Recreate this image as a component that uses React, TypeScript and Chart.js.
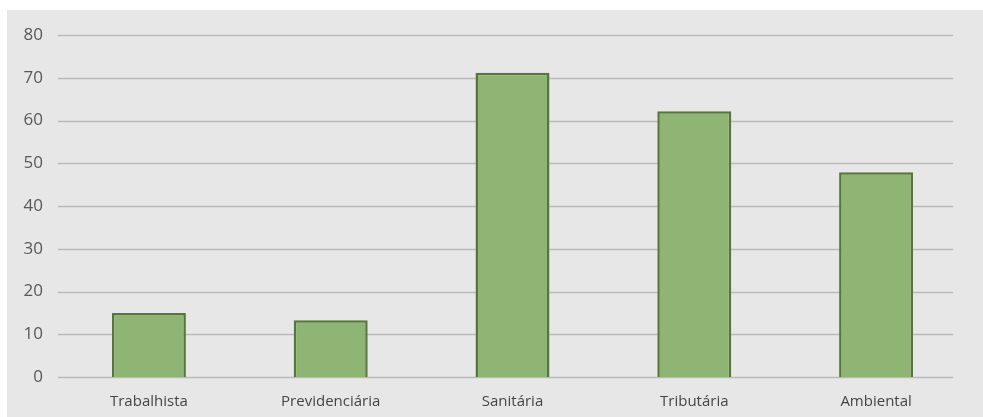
import React, { useEffect, useRef } from "react";
import { Chart, registerables } from "chart.js";

Chart.register(...registerables);

const categories = ["Trabalhista", "Previdenciária", "Sanitária", "Tributária", "Ambiental"];
const values = [15, 13.3, 71.2, 62.2, 47.9];
const yTicks = [0, 10, 20, 30, 40, 50, 60, 70, 80];

const gridPlugin = {
  id: "shortGrid",
  beforeDatasetsDraw(chart: any) {
    const { ctx, chartArea, scales } = chart;
    const y = scales.y;
    ctx.save();
    ctx.strokeStyle = "#bababa";
    ctx.lineWidth = 1.5;
    yTicks.forEach((v) => {
      const py = Math.round(y.getPixelForValue(v)) + 0.5;
      ctx.beginPath();
      ctx.moveTo(chartArea.left, py);
      ctx.lineTo(chartArea.right - 14, py);
      ctx.stroke();
    });
    ctx.restore();
  },
};

export default function App() {
  const ref = useRef<HTMLCanvasElement | null>(null);
  useEffect(() => {
    if (!ref.current) return;
    const chart = new Chart(ref.current, {
      type: "bar",
      data: {
        labels: categories,
        datasets: [
          {
            data: values,
            backgroundColor: "#8fb574",
            borderColor: "#557838",
            borderWidth: 2.5,
            barPercentage: 0.407,
            categoryPercentage: 1,
          },
        ],
      },
      plugins: [gridPlugin],
      options: {
        animation: false,
        responsive: false,
        maintainAspectRatio: false,
        layout: { padding: { left: 0, right: 16, top: 24, bottom: 0 } },
        plugins: { legend: { display: false }, tooltip: { enabled: false } },
        scales: {
          x: {
            grid: { display: false, drawTicks: false },
            border: { display: false },
            ticks: {
              color: "#454545",
              font: { family: "Open Sans", size: 15 },
              padding: 16,
              maxRotation: 0,
            },
            afterFit: (s: any) => {
              s.height = 40;
            },
          },
          y: {
            min: 0,
            max: 80,
            grid: { display: false, drawTicks: false },
            border: { display: false },
            afterBuildTicks: (s: any) => {
              s.ticks = yTicks.map((v) => ({ value: v }));
            },
            ticks: {
              color: "#585858",
              font: { family: "Open Sans", size: 17 },
              padding: 15,
            },
            afterFit: (s: any) => {
              s.width = 51;
            },
          },
        },
      },
    });
    return () => chart.destroy();
  }, []);
  return (
    <div style={{ position: "fixed", left: 0, top: 0, width: 983, height: 417, background: "#ffffff" }}>
      <div style={{ position: "absolute", left: 7, top: 10, width: 976, height: 407, background: "#e7e7e7" }}>
        <canvas ref={ref} width={976} height={407} style={{ display: "block" }} />
      </div>
    </div>
  );
}
